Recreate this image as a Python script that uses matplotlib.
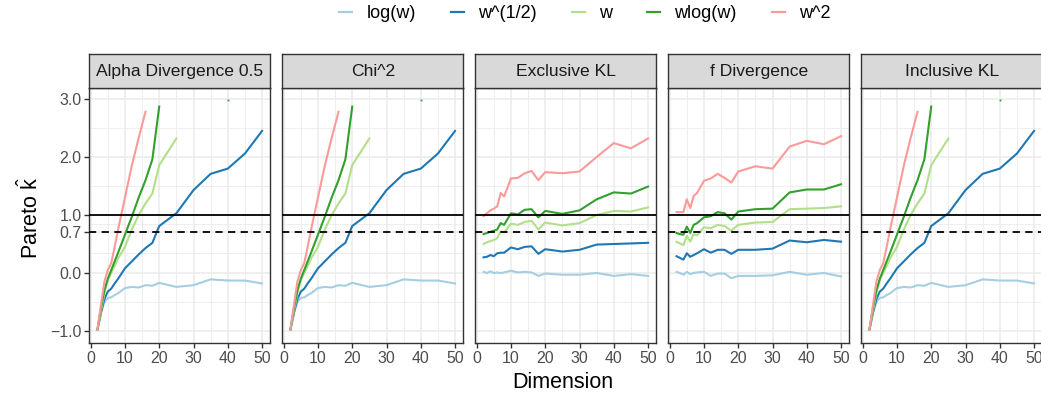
import numpy as np
import matplotlib
matplotlib.use("Agg")
import matplotlib.pyplot as plt
from matplotlib.lines import Line2D

plt.rcParams['font.family'] = ['Liberation Sans', 'DejaVu Sans']
plt.rcParams['mathtext.fontset'] = 'custom'
plt.rcParams['mathtext.rm'] = 'Liberation Sans'
plt.rcParams['mathtext.it'] = 'Liberation Sans'

nan = np.nan

# ---------------- data ----------------
dims = [2, 3, 4, 5, 6, 7, 8, 10, 12, 14, 16, 18, 20, 25, 30, 35, 40, 45, 50]
series_names = ["log(w)", "w^(1/2)", "w", "wlog(w)", "w^2"]
series_colors = ["#A6CEE3", "#1F78B4", "#B2DF8A", "#33A02C", "#FB9A99"]
panel_names = ["Alpha Divergence 0.5", "Chi^2", "Exclusive KL", "f Divergence", "Inclusive KL"]

# mass-covering objectives (Alpha 0.5, Chi^2, Inclusive KL); values beyond the axis are missing
cover_logw = [-0.97, -0.70, -0.50, -0.43, -0.42, -0.38, -0.35, -0.26, -0.24, -0.25,
              -0.21, -0.22, -0.17, -0.24, -0.21, -0.11, -0.13, -0.13, -0.18]
cover_sqrtw = [-0.97, -0.68, -0.45, -0.32, -0.27, -0.18, -0.10, 0.08, 0.20, 0.32,
               0.43, 0.52, 0.81, 1.03, 1.43, 1.71, 1.80, 2.06, 2.45]
cover_w = [-0.97, -0.65, -0.35, -0.12, 0.00, 0.12, 0.25, 0.45, 0.75, 1.00,
           1.20, 1.37, 1.86, 2.32, nan, nan, nan, nan, nan]
cover_wlogw = [-0.97, -0.60, -0.30, -0.10, 0.05, 0.20, 0.35, 0.66, 0.97, 1.30,
               1.60, 1.96, 2.87, nan, nan, nan, 2.99, nan, nan]
cover_w2 = [-0.97, -0.55, -0.15, 0.05, 0.17, 0.45, 0.75, 1.30, 1.85, 2.33,
            2.78, nan, nan, nan, nan, nan, nan, nan, nan]

# Exclusive KL
exkl_logw = [0.02, 0.00, 0.03, 0.00, 0.01, 0.00, 0.01, 0.04, 0.01, 0.02,
             0.01, -0.05, -0.01, -0.03, -0.03, 0.00, -0.05, -0.02, -0.05]
exkl_sqrtw = [0.27, 0.28, 0.31, 0.29, 0.34, 0.35, 0.35, 0.44, 0.41, 0.45,
              0.46, 0.33, 0.41, 0.37, 0.40, 0.49, 0.50, 0.51, 0.52]
exkl_w = [0.50, 0.53, 0.55, 0.57, 0.60, 0.72, 0.70, 0.85, 0.83, 0.88,
          0.90, 0.75, 0.87, 0.82, 0.86, 1.00, 1.07, 1.06, 1.13]
exkl_wlogw = [0.67, 0.69, 0.71, 0.73, 0.75, 0.86, 0.83, 1.03, 1.01, 1.09,
              1.10, 0.96, 1.07, 1.02, 1.08, 1.27, 1.39, 1.37, 1.49]
exkl_w2 = [0.98, 1.03, 1.08, 1.11, 1.15, 1.38, 1.32, 1.63, 1.64, 1.72,
           1.76, 1.60, 1.74, 1.72, 1.75, 2.00, 2.24, 2.15, 2.32]

# f Divergence
fdiv_logw = [0.02, 0.00, -0.03, 0.02, -0.02, 0.00, 0.01, 0.02, -0.05, -0.01,
             -0.01, -0.09, -0.05, -0.05, -0.04, 0.02, -0.03, 0.00, -0.06]
fdiv_sqrtw = [0.29, 0.26, 0.23, 0.34, 0.28, 0.31, 0.34, 0.41, 0.35, 0.40,
              0.40, 0.33, 0.40, 0.40, 0.42, 0.56, 0.53, 0.57, 0.54]
fdiv_w = [0.54, 0.51, 0.48, 0.64, 0.54, 0.67, 0.65, 0.79, 0.77, 0.83,
          0.81, 0.73, 0.83, 0.87, 0.88, 1.10, 1.11, 1.12, 1.15]
fdiv_wlogw = [0.69, 0.67, 0.66, 0.80, 0.69, 0.83, 0.86, 0.96, 0.98, 1.05,
              1.03, 0.92, 1.06, 1.10, 1.11, 1.39, 1.44, 1.44, 1.53]
fdiv_w2 = [1.05, 1.05, 1.05, 1.27, 1.12, 1.33, 1.38, 1.59, 1.63, 1.71,
           1.64, 1.56, 1.75, 1.84, 1.80, 2.18, 2.28, 2.22, 2.36]

cover = [cover_logw, cover_sqrtw, cover_w, cover_wlogw, cover_w2]
panel_data = {
    "Alpha Divergence 0.5": cover,
    "Chi^2": cover,
    "Exclusive KL": [exkl_logw, exkl_sqrtw, exkl_w, exkl_wlogw, exkl_w2],
    "f Divergence": [fdiv_logw, fdiv_sqrtw, fdiv_w, fdiv_wlogw, fdiv_w2],
    "Inclusive KL": cover,
}

y_breaks = [-1.0, 0.0, 0.7, 1.0, 2.0, 3.0]
y_minor = [-0.5, 0.35, 0.85, 1.5, 2.5]
x_breaks = [0, 10, 20, 30, 40, 50]
x_minor = [5, 15, 25, 35, 45]

# ---------------- figure ----------------
W, H = 1041, 396
fig = plt.figure(figsize=(W / 100, H / 100), dpi=100)

grid_col = "#EBEBEB"
border_col = "#333333"
tick_text_col = "#4D4D4D"

left0, step, pw = 89.3, 193.0, 181.0
top_px, bot_px, strip_top = 88.0, 343.0, 54.0

for i, name in enumerate(panel_names):
    lx = left0 + i * step
    ax = fig.add_axes([lx / W, (H - bot_px) / H, pw / W, (bot_px - top_px) / H])
    ax.set_xlim(-0.4, 52.4)
    ax.set_ylim(-1.207, 3.19)
    for v in y_minor:
        ax.axhline(v, color=grid_col, lw=0.6, zorder=0)
    for v in y_breaks:
        ax.axhline(v, color=grid_col, lw=1.1, zorder=0)
    for v in x_minor:
        ax.axvline(v, color=grid_col, lw=0.6, zorder=0)
    for v in x_breaks:
        ax.axvline(v, color=grid_col, lw=1.1, zorder=0)

    for vals, col in zip(panel_data[name], series_colors):
        y = np.array(vals, dtype=float)
        ax.plot(dims, y, color=col, lw=1.5, zorder=2, solid_joinstyle='round')
        # isolated points (neighbours missing) show as tiny dots
        for k in range(len(y)):
            if np.isfinite(y[k]):
                prev_ok = k > 0 and np.isfinite(y[k - 1])
                next_ok = k < len(y) - 1 and np.isfinite(y[k + 1])
                if not prev_ok and not next_ok:
                    ax.plot([dims[k]], [y[k]], marker='s', ms=1.3, color=col,
                            mec='none', zorder=2)

    ax.axhline(1.0, color='black', lw=1.3, zorder=3)
    ax.axhline(0.7, color='black', lw=1.3, ls=(0, (4, 3)), zorder=3)

    ax.set_xticks(x_breaks)
    ax.set_yticks(y_breaks)
    ax.tick_params(axis='both', length=3.5, width=1.0, color=border_col,
                   labelsize=11.4, labelcolor=tick_text_col, pad=2)
    if i == 0:
        ax.set_yticklabels([f"{v:.1f}".replace("-", "\u2212") for v in y_breaks])
    else:
        ax.set_yticklabels([])
        ax.tick_params(axis='y', length=0)
    for sp in ax.spines.values():
        sp.set_color(border_col)
        sp.set_linewidth(1.0)

    sax = fig.add_axes([lx / W, (H - top_px) / H, pw / W, (top_px - strip_top) / H])
    sax.set_facecolor("#D9D9D9")
    sax.set_xticks([])
    sax.set_yticks([])
    for sp in sax.spines.values():
        sp.set_color(border_col)
        sp.set_linewidth(1.0)
    sax.text(0.5, 0.48, name, ha='center', va='center', fontsize=12.6,
             color='#1A1A1A', transform=sax.transAxes)

fig.text(563 / W, 1 - 382 / H, "Dimension", ha='center', va='center', fontsize=15.5)
fig.text(30 / W, 1 - 218 / H, r"Pareto $\hat{k}$", ha='center', va='center',
         rotation=90, fontsize=15.5)

handles = [Line2D([0], [0], color=c, lw=1.6) for c in series_colors]
fig.legend(handles, series_names, loc='center', bbox_to_anchor=(585 / W, 1 - 14 / H),
           ncol=5, frameon=False, fontsize=13, handlelength=0.7,
           handletextpad=0.8, columnspacing=1.95)

fig.savefig("out.png", dpi=100)
